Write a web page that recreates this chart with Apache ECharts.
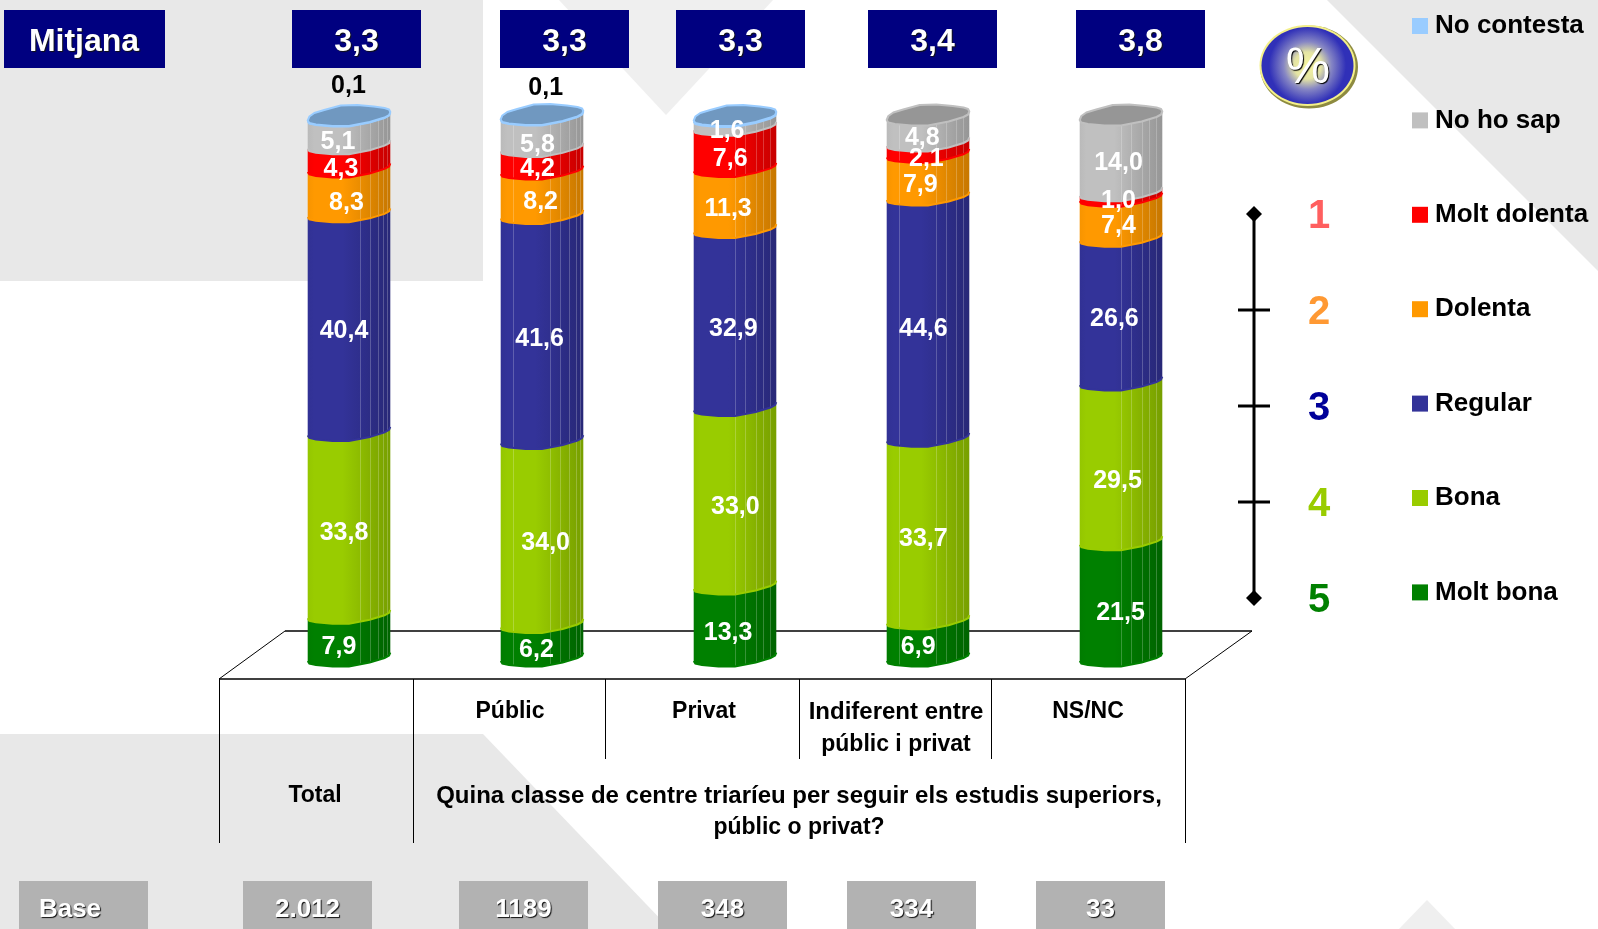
<!DOCTYPE html>
<html><head><meta charset="utf-8">
<script src="https://cdn.jsdelivr.net/npm/echarts@6/dist/echarts.min.js"></script>
<style>html,body{margin:0;padding:0;background:#fff}#c{width:1598px;height:929px}</style>
</head><body><div id="c"></div>
<script>
// ---- data ----
const categories = ['Total','Públic','Privat','Indiferent entre públic i privat','NS/NC'];
const means = ['3,3','3,3','3,3','3,4','3,8'];
const bases = ['2.012','1189','348','334','33'];
const moltBona   = [7.9, 6.2, 13.3, 6.9, 21.5];
const bona       = [33.8, 34.0, 33.0, 33.7, 29.5];
const regular    = [40.4, 41.6, 32.9, 44.6, 26.6];
const dolenta    = [8.3, 8.2, 11.3, 7.9, 7.4];
const moltDolenta= [4.3, 4.2, 7.6, 2.1, 1.0];
const noHoSap    = [5.1, 5.8, 1.6, 4.8, 14.0];
const noContesta = [0.1, 0.1, 0.2, 0, 0];
const noContestaLabelled = [true, true, false, false, false];
const scaleLabels = ['1','2','3','4','5'];
const legendOrder = ['No contesta','No ho sap','Molt dolenta','Dolenta','Regular','Bona','Molt bona'];

// ---- styling ----
const F = '"Liberation Sans", Arial, sans-serif';
const stackDefs = [
  {name:'Molt bona', values:moltBona, color:[0,128,0], nudge:[[-10,5.5],[-5.5,4],[-6.9,5.8],[-9.8,2.8],[-.5,8.7]]},
  {name:'Bona', values:bona, color:[153,204,0], nudge:[[-5,4],[3.7,5.6],[.3,5.7],[-4.7,4.5],[-3.5,14]]},
  {name:'Regular', values:regular, color:[51,51,153], nudge:[[-5,3],[-2.4,6.3],[-1.7,5.6],[-4.7,6.4],[-6.6,3.9]]},
  {name:'Dolenta', values:dolenta, color:[255,153,0], nudge:[[-2.5,7],[-1.4,3.4],[-6.9,4.9],[-7.7,4.7],[-2.5,3]]},
  {name:'Molt dolenta', values:moltDolenta, color:[255,0,0], nudge:[[-8,7],[-4.5,4.4],[-4.8,6.1],[-1.6,5.3],[-2.5,.3]]},
  {name:'No ho sap', values:noHoSap, color:[192,192,192], cap:'#969696', nudge:[[-11,5.6],[-4.5,7],[-7.9,3.4],[-5.7,3.6],[-2.5,3.1]]},
  {name:'No contesta', values:noContesta, color:[153,204,255], cap:'#7098c0', nudge:[[-.5,-36.6],[3.7,-34],[0,0],[0,0],[0,0]], outside:true}
];
const ribs = [[.63,.75,.85,.91,.96],[.15,.6,.72,.83,.91,.96],[.5,.62,.75,.84,.92],[.15,.6,.72,.84,.92],[.5,.62,.75,.84,.92]];
const front = [[0,0],[.02,2.5],[.1,4],[.3,5.5],[.5,5.5],[.75,1.5],[.93,-3],[.985,-5.5],[1,-8.5]];
const back  = [[1,-8.5],[.985,-11],[.93,-12.5],[.8,-14],[.6,-15.5],[.4,-15],[.2,-10.5],[.08,-7.5],[.02,-4],[0,0]];
const yAt = (prof,f) => { for(let i=1;i<prof.length;i++){ if(f<=prof[i][0]){const a=prof[i-1],b=prof[i];return a[1]+(b[1]-a[1])*(f-a[0])/(b[0]-a[0]);} } return 0; };
const rgb = (c,k) => 'rgb('+c.map(v=>Math.round(v*k)).join(',')+')';
const facets = c => ({type:'linear',x:0,y:0,x2:1,y2:0,colorStops:[
  {offset:0,color:rgb(c,.97)},{offset:.08,color:rgb(c,1)},{offset:.42,color:rgb(c,1)},{offset:.58,color:rgb(c,.94)},{offset:.78,color:rgb(c,.86)},{offset:1,color:rgb(c,.78)}]});

const fmt = v => v.toFixed(1).replace('.',',');
const cum = (si,bi) => { let s=0; for(let k=0;k<si;k++) s+=stackDefs[k].values[bi]; return s; };
const topSeries = bi => { for(let k=stackDefs.length-1;k>=0;k--) if(stackDefs[k].values[bi]>0) return k; return 0; };

const series = stackDefs.map((d,si)=>({
  name:d.name, type:'custom', coordinateSystem:'cartesian2d', silent:true,
  itemStyle:{color:rgb(d.color,1)},
  data:d.values.map((v,bi)=>[bi,cum(si,bi),cum(si,bi)+v]),
  renderItem(params,api){
    const bi=api.value(0), v0=api.value(1), v1=api.value(2);
    if(v1-v0<=0) return {type:'group',children:[]};
    const w=api.size([1,0])[0]*0.428;
    const p0=api.coord([bi,v0]), p1=api.coord([bi,v1]);
    const xl=p0[0]-w/2;
    const bottom=front.map(q=>[xl+q[0]*w,p0[1]+q[1]]);
    const topC=front.map(q=>[xl+q[0]*w,p1[1]+q[1]]).reverse();
    const children=[];
    children.push({type:'polygon',shape:{points:bottom.concat(topC)},style:{fill:facets(d.color),stroke:null}});
    ribs[bi].forEach(f=>{
      const x=Math.round(xl+f*w)+.5;
      children.push({type:'line',shape:{x1:x,y1:p1[1]+yAt(front,f),x2:x,y2:p0[1]+yAt(front,f)},style:{stroke:'rgba(255,255,255,.22)',lineWidth:1}});
    });
    children.push({type:'polyline',shape:{points:bottom},style:{stroke:rgb(d.color,1),lineWidth:2,fill:null}});
    if(si===topSeries(bi)){
      const rim=front.map(q=>[xl+q[0]*w,p1[1]+q[1]]).concat(back.map(q=>[xl+q[0]*w,p1[1]+q[1]]));
      children.push({type:'polygon',shape:{points:rim},style:{fill:d.cap,stroke:rgb(d.color,1),lineWidth:2,lineJoin:'round'}});
    }
    const shown = d.outside ? noContestaLabelled[bi] : true;
    if(shown){
      const n=d.nudge[bi];
      children.push({type:'text',z2:100,x:p0[0]+n[0],y:(p0[1]+p1[1])/2+n[1]+2,
        style:{text:fmt(v1-v0),fill:d.outside?'#000':'#fff',font:'bold 25px '+F,textAlign:'center',textVerticalAlign:'middle',align:'center',verticalAlign:'middle'}});
    }
    return {type:'group',children};
  }
}));

// ---- static furniture ----
const BG='#e8e8e8';
const g=[];
const poly=(pts,fill)=>g.push({type:'polygon',z:0,silent:true,shape:{points:pts},style:{fill}});
const rect=(x0,y0,x1,y1,fill)=>g.push({type:'rect',z:1,silent:true,shape:{x:x0,y:y0,width:x1-x0,height:y1-y0},style:{fill}});
const line=(x1,y1,x2,y2,w,col)=>g.push({type:'line',z:1,silent:true,shape:{x1,y1,x2,y2},style:{stroke:col||'#000',lineWidth:w||1.5}});
const text=(x,y,t,size,fill,extra)=>g.push({type:'text',z:3,silent:true,x,y:y+2,style:Object.assign({text:t,fill,font:'bold '+size+'px '+F,textAlign:'center',textVerticalAlign:'middle',align:'center',verticalAlign:'middle'},extra||{})});
const shade={textShadowColor:'#111',textShadowOffsetX:1,textShadowOffsetY:1,textShadowBlur:1};

poly([[0,0],[483,0],[483,281],[0,281]],BG);
poly([[559,0],[773,0],[666,115]],'#efefef');
poly([[1327,0],[1598,0],[1598,271]],BG);
poly([[0,734],[483,734],[670,929],[0,929]],BG);
poly([[1427,900],[1399,929],[1455,929]],'#efefef');

// table
line(285,631,1252,631); line(219,679,285,631,1); line(1185,679,1252,631,1);
line(219,679,1185,679);
[[219,843],[413,843],[605,759],[799,759],[991,759],[1185,843]].forEach(a=>line(a[0]+.5,679,a[0]+.5,a[1],1));
const colLabels=[[510,710,'Públic',23],[704,710,'Privat',23],[896,710,'Indiferent entre',24],[896,743,'públic i privat',23],[1088,710,'NS/NC',23],[315,794,'Total',23],[799,794,'Quina classe de centre triaríeu per seguir els estudis superiors,',24],[799,826,'públic o privat?',23]];
colLabels.forEach(a=>text(a[0],a[1],a[2],a[3],'#000'));

// header boxes
rect(4,10,165,68,'#000080'); text(84,40,'Mitjana',32,'#fff',shade);
[[292,421],[500,629],[676,805],[868,997],[1076,1205]].forEach((b,i)=>{rect(b[0],10,b[1],68,'#000080');text((b[0]+b[1])/2,40,means[i],32,'#fff',shade);});

// base boxes
rect(19,881,148,929,'#b2b2b2'); text(70,908,'Base',26,'#fff',shade);
[[243,372],[459,588],[658,787],[847,976],[1036,1165]].forEach((b,i)=>{rect(b[0],881,b[1],929,'#b2b2b2');text((b[0]+b[1])/2,908,bases[i],26,'#fff',shade);});

// % badge
g.push({type:'ellipse',z:1,silent:true,shape:{cx:1309,cy:67,rx:49,ry:41.5},style:{fill:'#8d8a40'}});
g.push({type:'ellipse',z:2,silent:true,shape:{cx:1307.5,cy:65.5,rx:48,ry:40.5},style:{fill:'#f4f08a'}});
g.push({type:'ellipse',z:2,silent:true,shape:{cx:1307.5,cy:65.5,rx:46,ry:38.5},style:{fill:{type:'radial',x:.5,y:.5,r:.5,colorStops:[{offset:0,color:'#f7f7a0'},{offset:.35,color:'#e4e4a4'},{offset:.62,color:'#8686c4'},{offset:1,color:'#3030b8'}]}}});
g.push({type:'text',z:3,silent:true,x:1308,y:69,style:{text:'%',fill:'#fff',font:'50px '+F,textAlign:'center',textVerticalAlign:'middle',align:'center',verticalAlign:'middle',textShadowColor:'#000',textShadowOffsetX:1,textShadowOffsetY:1,textShadowBlur:1}});

// 1-5 scale
line(1254,214,1254,598,3);
[310,406,502].forEach(y=>line(1238,y,1270,y,3));
[214,598].forEach(y=>g.push({type:'polygon',z:2,silent:true,shape:{points:[[1254,y-8],[1262,y],[1254,y+8],[1246,y]]},style:{fill:'#000'}}));
const scaleCols=['#ff5f5f','#ff9933','#000099','#99cc00','#008000'];
[214,310,406,502,598].forEach((y,i)=>text(1319,y+1,scaleLabels[i],40,scaleCols[i]));

const chart=echarts.init(document.getElementById('c'),null,{renderer:'canvas',width:1598,height:929});
chart.setOption({
  animation:false, backgroundColor:'#fff', tooltip:{show:false},
  grid:{left:252.5,top:120,width:965,height:541,containLabel:false},
  xAxis:{type:'category',data:categories,show:false},
  yAxis:{type:'value',min:0,max:100,show:false},
  legend:{data:legendOrder,orient:'vertical',left:1412,top:13,padding:0,itemWidth:16,itemHeight:16,itemGap:68.4,icon:'rect',selectedMode:false,
    textStyle:{fontFamily:F,fontWeight:'bold',fontSize:26,color:'#000',lineHeight:16,padding:[0,0,0,2]}},
  graphic:{elements:g},
  series
});
</script></body></html>
